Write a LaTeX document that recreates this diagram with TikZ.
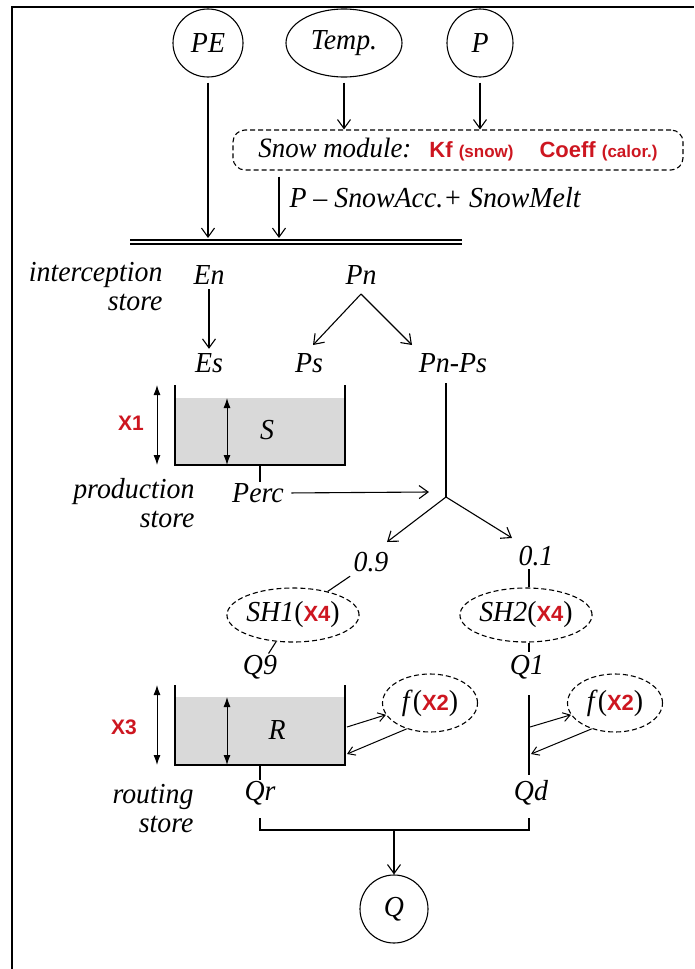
\documentclass[tikz,border=0pt]{standalone}
\usepackage{fontspec}
\setmainfont{Liberation Serif}
\setsansfont{Liberation Sans}
\newfontfamily\diagfont{Liberation Serif}[FakeStretch=0.96]
\usetikzlibrary{
    arrows.meta,
    positioning,
    calc,
    shapes.geometric
}
\definecolor{parred}{RGB}{205,22,32}
\definecolor{storegray}{RGB}{217,217,217}
\newcommand{\redpar}[1]{{\sffamily\bfseries\fontsize{22}{24}\selectfont\color{parred}#1}}
\tikzset{
    % --- Input / output variable (circle) ---
    io var/.style = {
        ellipse, draw, line width=1.1pt, inner sep=0pt,
        minimum width=68pt, minimum height=68pt,
        font=\diagfont\itshape\fontsize{29}{33}\selectfont
    },
    % --- Snow module enclosure ---
    snow box/.style = {
        rectangle, draw, line width=1.1pt, dash pattern=on 5pt off 3pt,
        rounded corners=12pt,
        minimum width=450pt, minimum height=40pt, inner sep=0pt
    },
    % --- Dashed parameter function ---
    param node/.style = {
        ellipse, draw, line width=1.1pt, dash pattern=on 5pt off 3pt,
        inner sep=0pt, minimum width=114pt, minimum height=54pt,
        font=\diagfont\fontsize{29}{33}\selectfont
    },
    % --- Flux / variable label ---
    flux/.style = {
        font=\diagfont\itshape\fontsize{29}{33}\selectfont, inner sep=1pt
    },
    % --- Store name (left margin) ---
    store name/.style = {
        font=\diagfont\itshape\fontsize{29}{29}\selectfont,
        align=right, anchor=east, inner sep=0pt
    },
    % --- Free parameter (red, bold) ---
    param/.style = {
        font=\sffamily\bfseries\fontsize{21}{24}\selectfont, text=parred
    },
    % --- Store walls ---
    store/.style = {draw, line width=1.6pt},
    % --- Level arrow inside / beside a store ---
    level/.style = {
        {Latex[length=10pt,width=7pt]}-{Latex[length=10pt,width=7pt]},
        line width=1pt
    },
    % --- Flow arrow ---
    flow/.style = {-{Straight Barb[length=9pt,width=13pt]}, line width=1.1pt},
    % --- Small exchange arrow ---
    small flow/.style = {-{Straight Barb[length=7pt,width=9pt]}, line width=1pt}
}

\begin{document}
\begin{tikzpicture}[x=1pt, y=-1pt, line width=1.1pt]

\useasboundingbox (0,0) rectangle (694,969);

% Frame
\draw[line width=2.2pt] (12,969) -- (12,7) -- (694,7);

% ---------------------------------------------------------
% Inputs
% ---------------------------------------------------------
\node[io var, minimum width=70pt] (PE) at (208,43) {PE};
\node[io var, minimum width=116pt] (Temp) at (344,43) {Temp.};
\node[io var, minimum width=66pt] (P) at (480,43) {P};

% ---------------------------------------------------------
% Snow module
% ---------------------------------------------------------
\node[snow box] (Snow) at (458,150) {{\diagfont\itshape\fontsize{28}{33}\selectfont Snow module:}\hspace{18pt}{\sffamily\bfseries\color{parred}\fontsize{22}{24}\selectfont Kf \fontsize{17}{20}\selectfont(snow)\hspace{26pt}\fontsize{22}{24}\selectfont Coeff \fontsize{17}{20}\selectfont(calor.)}};

\draw[flow, shorten <=5pt] (Temp) -- (Temp |- Snow.north);
\draw[flow, shorten <=5pt] (P) -- (P |- Snow.north);

% ---------------------------------------------------------
% Interception store
% ---------------------------------------------------------
\coordinate (barL) at (130,242);
\coordinate (barR) at (462,242);
\coordinate (barTop) at (0,238);
\coordinate (melt) at (279,238);
\draw[double, double distance=2.5pt, line width=1.3pt] (barL) -- (barR);

\draw[flow, shorten <=5pt] (PE) -- (PE |- barTop);
\draw[flow, shorten <=6pt] (melt |- Snow.south) -- (melt);
\node[flux, anchor=west] (Melt) at (288,198) {P – SnowAcc.+ SnowMelt};

\node[store name] (Interc) at (163,287) {interception\\store};
\node[flux] (En) at (209,275) {En};
\node[flux] (Pn) at (361,275) {Pn};
\node[flux] (Es) at (209,363) {Es};
\node[flux] (Ps) at (309,363) {Ps};
\node[flux] (PnPs) at (453,363) {Pn-Ps};

\draw[flow, shorten <=3pt, shorten >=3pt] (En) -- (Es);
\coordinate (PnSplit) at (361,294);
\coordinate (PsTip) at (313,345);
\coordinate (PnPsTip) at (412,345);
\draw[flow] (PnSplit) -- (PsTip);
\draw[flow] (PnSplit) -- (PnPsTip);

% ---------------------------------------------------------
% Production store
% ---------------------------------------------------------
\fill[storegray] (175,398) rectangle (345,465);
\draw[store] (175,385) |- (345,465) -- (345,385);
\draw[level] (157,385) -- (157,465);
\draw[level] (227,398) -- (227,465);
\node[param] (X1) at (131,423) {X1};
\node[flux] (S) at (267,430) {S};

\node[flux] (Perc) at (258,493) {Perc};
\coordinate (prodBot) at (260,465);
\draw (prodBot) -- (prodBot |- Perc.north);
\node[store name] (Prod) at (195,503) {production\\store};

\coordinate (junc) at (446,497);
\coordinate (PercTip) at (429,492);
\draw[shorten >=9pt] (junc) -- (junc |- PnPs.south);
\draw[flow, shorten <=6pt] (Perc.east) -- (PercTip);

% ---------------------------------------------------------
% Split 0.9 / 0.1 and unit hydrographs
% ---------------------------------------------------------
\coordinate (tip09) at (387,542);
\coordinate (tip01) at (512,538);
\draw[flow] (junc) -- (tip09);
\draw[flow] (junc) -- (tip01);
\node[flux] (n09) at (371,562) {0.9};
\node[flux] (n01) at (536,556) {0.1};

\node[param node] (SH1) at (293,615) {\textit{SH1}(\redpar{X4})};
\node[param node] (SH2) at (526,615) {\textit{SH2}(\redpar{X4})};
\node[flux] (Q9) at (260,667) {Q9};
\node[flux] (Q1) at (527,667) {Q1};

\coordinate (sh2top) at (529,569);
\coordinate (sh2bot) at (529,652);
\draw[shorten <=5pt] (n09) -- (SH1);
\draw (sh2top) -- (sh2top |- SH2.north);
\draw (SH1) -- (Q9);
\draw (sh2bot |- SH2.south) -- (sh2bot);

% ---------------------------------------------------------
% Routing store and direct flow
% ---------------------------------------------------------
\fill[storegray] (175,697) rectangle (345,765);
\draw[store] (175,685) |- (345,765) -- (345,685);
\draw[level] (157,685) -- (157,765);
\draw[level] (227,697) -- (227,765);
\node[param] (X3) at (124,727) {X3};
\node[flux] (R) at (277,730) {R};

\node[param node, minimum width=95pt, minimum height=58pt] (fR) at (430,703) {\textit{f}(\redpar{X2})};
\node[param node, minimum width=95pt, minimum height=58pt] (fD) at (615,703) {\textit{f}(\redpar{X2})};

\coordinate (rOut) at (347,727);
\coordinate (rIn) at (347,754);
\draw[small flow] (rOut) -- (fR.195);
\draw[small flow] (fR.228) -- (rIn);

\coordinate (dTop) at (529,695);
\coordinate (dBot) at (529,775);
\coordinate (dOut) at (530,727);
\coordinate (dIn) at (531,754);
\draw (dTop) -- (dBot);
\draw[small flow] (dOut) -- (fD.195);
\draw[small flow] (fD.228) -- (dIn);

\node[flux] (Qr) at (260,793) {Qr};
\node[flux] (Qd) at (531,793) {Qd};
\coordinate (rBot) at (260,765);
\draw (rBot) -- (rBot |- Qr.north);
\node[store name] (Rout) at (194,809) {routing\\store};

% ---------------------------------------------------------
% Total flow
% ---------------------------------------------------------
\coordinate (rJoin) at (260,818);
\coordinate (dJoin) at (529,818);
\coordinate (merge) at (394,830);
\draw (rJoin) |- (merge) -| (dJoin);
\node[io var] (Q) at (394,909) {Q};
\draw[flow] (merge) -- (Q);

\end{tikzpicture}
\end{document}
